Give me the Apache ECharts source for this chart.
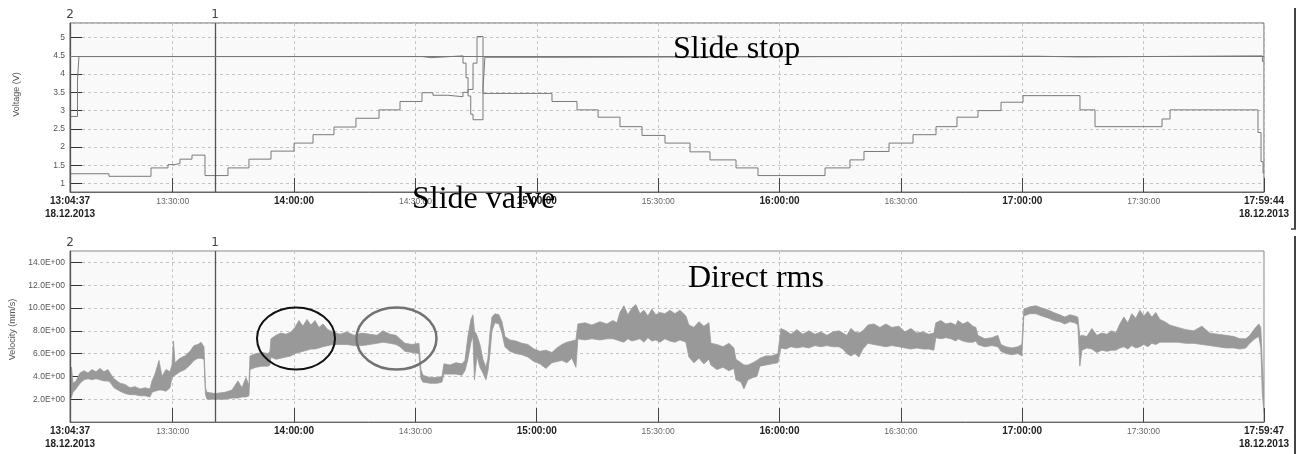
<!DOCTYPE html>
<html><head><meta charset="utf-8">
<script src="https://cdn.jsdelivr.net/npm/echarts@6/dist/echarts.min.js"></script>
<style>html,body{margin:0;padding:0;background:#fff}#c{width:1303px;height:454px}</style>
</head><body><div id="c"></div><script>
// ---------- data ----------
const dateLabel = '18.12.2013';
const startTime = '13:04:37';
const endTimeTop = '17:59:44';
const endTimeBottom = '17:59:47';
const cursor1Time = '13:40:27';
const cursor2Time = '13:04:37';
const limitLevel = 4.5;

const valveTimes = ['13:04:37','13:14:15','13:24:38','13:28:50','13:30:30','13:31:48','13:34:46','13:37:59','13:43:40','13:48:51','13:54:18','14:00:00','14:04:41','14:09:52','14:15:18','14:21:00','14:26:11','14:31:37','14:34:20','14:38:00','14:41:45','14:43:00','14:44:14','14:45:13','14:46:42','15:03:45','15:09:56','15:15:08','15:20:33','15:26:00','15:31:41','15:37:52','15:42:48','15:49:14','15:54:40','16:11:14','16:17:24','16:20:52','16:27:03','16:32:59','16:38:40','16:43:51','16:49:03','16:54:44','17:00:10','17:14:15','17:17:58','17:34:32','17:36:30','17:58:15','17:59:00','17:59:30','17:59:44'];
const valveVolts = [1.27,1.20,1.43,1.52,1.55,1.67,1.78,1.22,1.43,1.67,1.89,2.11,2.34,2.55,2.79,3.02,3.25,3.49,3.42,3.38,3.50,3.58,4.30,5.03,3.47,3.25,3.02,2.82,2.56,2.32,2.11,1.87,1.65,1.43,1.22,1.43,1.65,1.88,2.11,2.34,2.56,2.82,3.00,3.23,3.41,3.02,2.56,2.77,3.02,2.40,1.60,1.29,1.29];

const stopTimes = ['13:04:37','13:06:28','13:06:50','14:31:37','14:33:50','14:41:45','14:42:30','14:43:00','14:43:40','14:44:14','14:46:42','14:47:10','15:03:45','17:03:37','17:14:00','17:59:20','17:59:44'];
const stopVolts = [2.84,3.84,4.48,4.45,4.50,4.30,3.90,3.40,2.90,2.75,3.60,4.46,4.49,4.47,4.50,4.35,4.35];

// Direct rms: minutes after the 13:04:37 start, with the lower and upper edge of the noisy trace (mm/s)
const velMinutes = [0,0.37,0.74,1.48,2.47,3.46,4.45,5.44,6.43,7.42,8.40,9.39,9.89,10.88,12.36,13.59,14.83,16.07,17.30,18.54,19.77,20.27,21.01,22.00,22.74,23.73,24.72,25.21,25.58,25.95,27.19,28.42,29.66,30.65,31.64,32.38,33.12,33.49,33.86,35.84,38.31,40.04,41.52,42.51,43.50,44.24,44.49,45.97,47.46,48.94,49.43,49.68,50.92,52.15,53.39,54.62,55.61,56.60,57.59,58.58,59.57,60.56,61.55,62.53,63.77,65.01,66.74,68.47,70.20,72.17,74.15,75.88,77.36,79.09,80.58,81.57,82.80,84.53,86.26,86.76,87.25,88.98,90.71,91.95,92.44,93.92,95.41,96.89,97.63,98.37,99.12,99.61,99.98,100.60,101.34,102.08,102.82,103.32,103.81,104.31,105.05,106.04,106.78,107.52,108.75,110.24,111.72,113.20,114.69,116.17,117.65,119.14,120.37,121.61,122.84,124.08,125.07,125.56,127.29,129.02,131.00,132.73,134.21,135.20,135.94,136.93,137.92,138.91,139.90,140.89,141.88,142.86,143.85,144.84,145.83,147.07,148.30,149.54,150.77,152.26,153.00,154.23,155.47,156.71,157.94,158.44,159.92,161.40,162.89,164.12,164.62,165.86,166.60,167.59,168.82,169.81,170.55,172.03,173.51,175.00,175.74,176.97,178.21,179.69,181.18,182.66,184.14,185.62,187.11,188.59,190.07,191.06,192.05,193.04,194.03,195.02,196.01,197.25,198.72,200.21,201.69,203.17,204.90,206.39,207.87,209.35,210.84,212.32,213.55,214.05,215.29,216.52,217.76,218.99,219.49,220.72,221.96,223.20,223.94,224.43,226.16,227.89,229.37,230.12,231.35,232.83,234.32,235.31,235.80,237.28,238.77,240.25,241.98,243.21,244.70,245.93,247.17,248.41,249.15,249.64,250.14,251.37,252.61,253.85,255.08,256.32,257.55,258.54,259.53,260.52,261.50,262.49,263.48,264.47,265.46,266.45,267.44,268.43,269.42,270.65,271.89,273.86,275.84,277.82,279.80,281.77,283.75,285.73,287.71,289.19,290.67,291.66,292.89,293.88,294.38,294.75,295.17];
const velLow = [2.0,2.2,2.6,2.9,3.4,3.7,3.8,3.7,3.8,3.7,3.6,3.6,3.5,3.0,2.7,2.5,2.4,2.4,2.3,2.3,2.2,2.6,2.7,2.8,2.8,2.7,3.0,3.9,4.0,4.1,4.4,4.6,5.0,5.4,5.6,5.6,5.5,2.4,2.0,2.0,2.0,2.1,2.1,2.2,2.2,2.3,4.6,4.8,4.9,4.9,5.0,5.7,5.5,5.6,5.7,5.8,6.0,6.1,6.2,6.3,6.4,6.4,6.5,6.6,6.7,6.8,6.8,6.8,6.7,6.7,6.8,6.9,7.0,6.9,6.8,6.6,6.2,6.1,6.0,3.8,3.5,3.4,3.4,3.5,4.2,4.2,4.2,4.1,4.5,5.5,7.0,7.5,3.7,5.8,4.8,4.3,3.7,4.5,6.0,8.0,8.7,8.6,7.8,6.6,6.2,6.0,5.9,5.7,5.3,5.1,4.7,5.2,5.3,5.4,5.2,5.6,4.8,7.3,7.2,7.3,7.2,7.3,7.3,7.2,7.1,7.0,7.3,7.1,7.2,7.3,7.0,7.4,7.1,7.2,7.0,7.3,7.1,7.0,7.2,7.0,5.7,5.2,5.6,5.1,5.5,5.0,4.6,4.8,4.5,4.7,3.7,3.5,2.9,3.7,3.9,4.0,4.9,5.0,5.1,5.2,6.5,6.4,6.6,6.5,6.6,6.5,6.7,6.6,6.7,6.6,6.6,6.4,6.0,5.8,6.0,5.7,6.4,6.9,6.8,6.7,6.6,6.7,6.6,6.5,6.4,6.5,6.4,6.4,6.3,7.4,7.3,7.4,7.3,7.1,7.3,7.1,7.0,7.0,7.1,6.8,6.6,6.7,6.6,6.2,6.0,5.9,6.0,5.8,9.3,9.5,9.5,9.3,9.1,8.9,8.8,8.6,8.8,8.7,8.5,4.9,6.3,6.5,6.4,6.1,6.3,6.2,6.3,6.3,6.5,6.6,6.4,6.7,6.5,6.6,6.8,6.6,6.9,6.8,7.0,7.0,7.0,7.0,6.9,6.9,6.8,6.7,6.6,6.5,6.5,6.4,6.5,6.9,7.3,7.5,6.5,2.5,0.8];
const velHigh = [2.5,4.8,3.4,3.6,4.3,4.5,4.3,4.6,4.4,4.7,4.4,4.6,4.3,3.8,3.4,3.3,3.0,3.1,2.9,3.0,2.9,3.6,4.2,5.4,4.0,4.6,4.4,5.0,7.1,5.2,5.6,5.8,6.2,6.7,6.8,7.0,6.6,3.0,2.6,2.5,2.6,2.8,3.6,3.0,3.9,3.2,5.8,6.0,6.1,6.0,6.2,7.3,7.6,7.8,7.7,7.9,8.3,8.9,8.4,9.0,8.5,8.9,8.3,8.6,8.1,7.9,7.7,7.9,7.6,7.8,7.7,7.6,8.0,7.7,7.6,7.3,6.9,6.8,6.9,4.6,4.1,3.9,3.9,4.0,5.1,5.0,5.2,5.1,5.4,7.5,9.0,9.4,8.0,7.6,6.8,5.5,4.8,5.6,7.8,9.2,9.5,9.4,8.8,7.5,7.2,7.1,6.9,6.8,6.4,6.2,6.3,6.1,6.5,6.8,7.0,7.1,7.2,8.6,8.7,8.5,8.8,8.6,8.9,8.7,9.6,10.2,9.4,10.0,10.3,9.5,9.8,9.3,9.9,9.4,9.6,9.5,9.8,9.5,9.8,9.3,8.5,8.3,8.8,8.4,8.7,6.9,6.8,6.6,6.9,6.5,5.5,5.2,5.0,5.0,5.2,5.4,5.6,5.8,5.8,6.0,8.2,8.0,7.7,8.1,7.7,8.0,7.7,7.9,7.6,7.9,8.0,7.8,7.6,8.2,7.9,7.8,8.0,8.5,8.6,8.3,8.6,8.3,8.4,7.9,8.2,7.8,7.9,7.7,7.8,8.7,8.9,8.6,8.7,8.5,8.9,8.6,8.8,8.4,8.3,7.6,7.3,7.4,7.6,6.8,6.6,6.5,6.6,6.8,9.9,10.1,10.2,10.0,9.8,9.6,9.4,9.2,9.4,9.3,9.2,7.5,7.6,7.5,8.2,7.6,7.8,7.7,8.0,7.8,8.6,9.2,8.7,9.5,9.1,9.8,9.3,9.7,9.2,9.6,9.0,8.8,8.5,8.3,8.1,8.0,8.4,7.8,7.7,7.6,7.5,7.3,7.3,7.6,8.2,8.6,8.3,5.0,2.2];

// ---------- helpers ----------
const toSec = s => { const p = s.split(':').map(Number); return p[0]*3600 + p[1]*60 + p[2]; };
const pad = n => (n < 10 ? '0' : '') + n;
const fmt = v => { v = Math.round(v); return pad(Math.floor(v/3600)) + ':' + pad(Math.floor(v%3600/60)) + ':' + pad(v%60); };
const zip = (t, v) => t.map((s, i) => [toSec(s), v[i]]);

const labelFont = '"Liberation Sans", Arial, sans-serif';
function xAxisFor(idx, minS, maxS) {
  return {
    type: 'value', gridIndex: idx, min: minS, max: maxS,
    minInterval: 1800, maxInterval: 1800,
    axisLine: {show: true, onZero: false, lineStyle: {color: '#666', width: 1}},
    axisTick: {show: true, inside: true, length: 14, lineStyle: {color: '#444'}},
    splitLine: {show: true, lineStyle: {color: '#c4c4c4', type: [3, 3]}},
    axisLabel: {
      margin: 3, showMinLabel: true, showMaxLabel: true,
      formatter: v => {
        if (Math.abs(v - minS) < 1 || Math.abs(v - maxS) < 1) return '{b|' + fmt(v) + '}\n{b|' + dateLabel + '}';
        if (Math.round(v) % 3600 === 0) return '{b|' + fmt(v) + '}';
        return '{n|' + fmt(v) + '}';
      },
      rich: {
        b: {fontFamily: labelFont, fontSize: 10, fontWeight: 'bold', color: '#222', lineHeight: 13},
        n: {fontFamily: labelFont, fontSize: 8.5, color: '#666', lineHeight: 13}
      }
    }
  };
}
function yAxisFor(idx, o) {
  return Object.assign({
    type: 'value', gridIndex: idx,
    axisLine: {show: true, onZero: false, lineStyle: {color: '#666'}},
    axisTick: {show: true, inside: true, length: 12, lineStyle: {color: '#333'}},
    splitLine: {show: true, lineStyle: {color: '#c4c4c4', type: [3, 3]}},
    nameLocation: 'middle',
    axisLabel: {showMinLabel: false, showMaxLabel: false, fontFamily: labelFont, fontSize: 8.5, color: '#555', margin: 5}
  }, o);
}
const cursorLines = (withLimit) => ({
  silent: true, symbol: ['none', 'none'], animation: false,
  lineStyle: {color: '#555', width: 1.3, type: 'solid'},
  label: {show: true, position: 'end', distance: 2, fontFamily: '"DejaVu Sans", sans-serif', fontSize: 12, color: '#444'},
  data: [
    {xAxis: toSec(cursor1Time), label: {formatter: '1'}},
    {xAxis: toSec(cursor2Time), label: {formatter: '2'}}
  ].concat(withLimit ? [{yAxis: limitLevel, label: {show: false}, lineStyle: {color: '#777', width: 1}}] : [])
});

const t0 = toSec(startTime);
const bandSource = velMinutes.map((m, i) => [t0 + m * 60, velLow[i], velHigh[i]]);

const chart = echarts.init(document.getElementById('c'), null, {renderer: 'canvas'});
chart.setOption({
  animation: false,
  backgroundColor: '#fff',
  grid: [
    {left: 70, right: 39, top: 23, height: 169, show: true, backgroundColor: '#f9f9f9', borderColor: '#666', borderWidth: 1},
    {left: 70, right: 39, top: 251, height: 171, show: true, backgroundColor: '#f9f9f9', borderColor: '#888', borderWidth: 1}
  ],
  xAxis: [
    xAxisFor(0, toSec(startTime), toSec(endTimeTop)),
    xAxisFor(1, toSec(startTime), toSec(endTimeBottom))
  ],
  yAxis: [
    yAxisFor(0, {min: 0.77, max: 5.4, minInterval: 0.5, maxInterval: 0.5, name: 'Voltage (V)', nameGap: 49,
      nameTextStyle: {fontFamily: labelFont, fontSize: 9, color: '#555', padding: [0, 0, 0, 26]}}),
    yAxisFor(1, {min: 0, max: 15, interval: 2, name: 'Velocity (mm/s)', nameGap: 49,
      nameTextStyle: {fontFamily: labelFont, fontSize: 9, color: '#555', padding: [0, 0, 0, 14]},
      axisLabel: {showMinLabel: false, showMaxLabel: false, fontFamily: labelFont, fontSize: 8.5, color: '#555', margin: 5,
        formatter: v => v.toFixed(1) + 'E+00'}})
  ],
  series: [
    {name: 'Slide valve', type: 'line', xAxisIndex: 0, yAxisIndex: 0, step: 'end', showSymbol: false,
      lineStyle: {color: '#7a7a7a', width: 1}, data: zip(valveTimes, valveVolts), markLine: cursorLines(true)},
    {name: 'Slide stop', type: 'line', xAxisIndex: 0, yAxisIndex: 0, step: 'end', showSymbol: false,
      lineStyle: {color: '#7a7a7a', width: 1}, data: zip(stopTimes, stopVolts)},
    {name: 'Direct rms', type: 'custom', xAxisIndex: 1, yAxisIndex: 1, clip: true,
      encode: {x: 0, y: [1, 2]}, data: bandSource,
      renderItem: (params, api) => {
        if (params.dataIndex !== 0) return null;
        const up = bandSource.map(d => api.coord([d[0], d[2]]));
        const lo = bandSource.map(d => api.coord([d[0], d[1]])).reverse();
        return {type: 'polygon', shape: {points: up.concat(lo)},
          style: {fill: '#999999', stroke: '#9c9c9c', lineWidth: 0.8}};
      },
      markLine: cursorLines(false)}
  ],
  graphic: [
    {type: 'text', left: 673, top: 34, z: 100, style: {text: 'Slide stop', font: '32px "Liberation Serif", "Times New Roman", serif', fill: '#000'}},
    {type: 'text', left: 412, top: 184, z: 100, style: {text: 'Slide valve', font: '32px "Liberation Serif", "Times New Roman", serif', fill: '#000'}},
    {type: 'text', left: 688, top: 263, z: 100, style: {text: 'Direct rms', font: '32px "Liberation Serif", "Times New Roman", serif', fill: '#000'}},
    {type: 'ellipse', z: 100, shape: {cx: 296, cy: 338.5, rx: 39, ry: 31}, style: {fill: 'none', stroke: '#111', lineWidth: 2}},
    {type: 'ellipse', z: 100, shape: {cx: 396.5, cy: 338.5, rx: 40, ry: 31}, style: {fill: 'none', stroke: '#727272', lineWidth: 2.5}},
    {type: 'line', z: 100, shape: {x1: 1295, y1: 8, x2: 1295, y2: 229}, style: {stroke: '#444', lineWidth: 2}},
    {type: 'line', z: 100, shape: {x1: 1291, y1: 229, x2: 1296, y2: 229}, style: {stroke: '#444', lineWidth: 1.5}},
    {type: 'line', z: 100, shape: {x1: 1295, y1: 236, x2: 1295, y2: 454}, style: {stroke: '#444', lineWidth: 2}}
  ]
});
</script></body></html>
